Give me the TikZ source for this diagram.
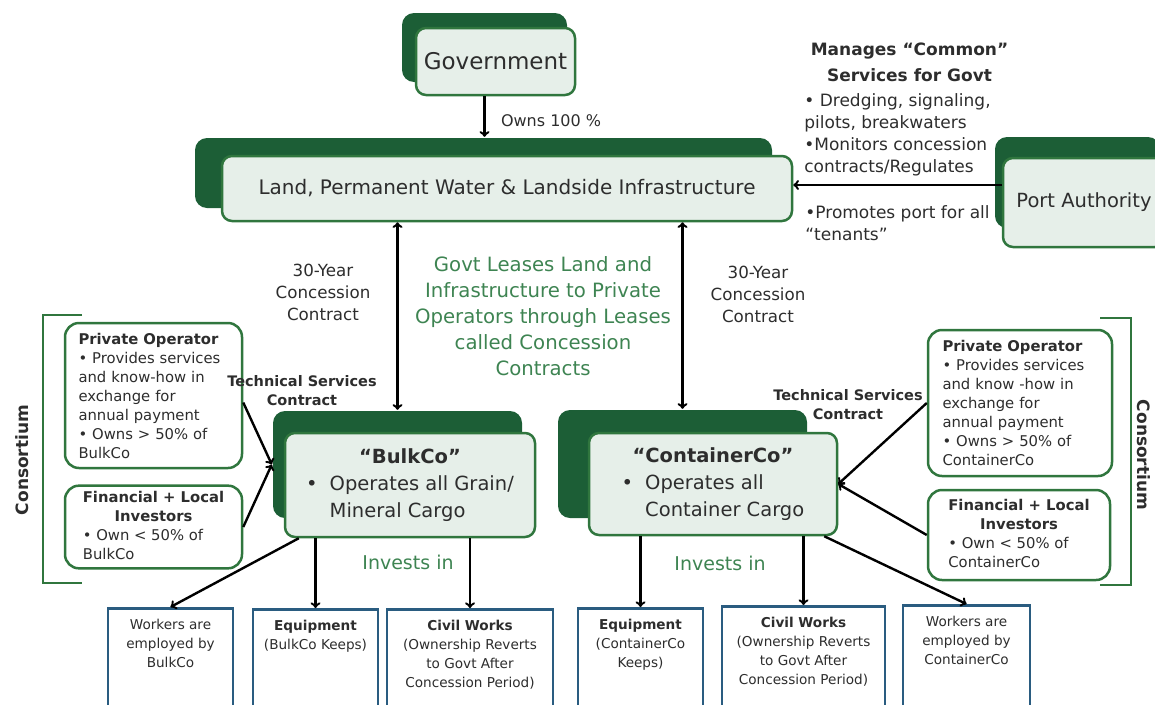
\documentclass[tikz,border=0pt]{standalone}
\usepackage{fontspec}
\setmainfont{DejaVu Sans}
\usetikzlibrary{positioning}
\definecolor{dkgreen}{RGB}{28,94,54}
\definecolor{edgegreen}{RGB}{48,118,62}
\definecolor{palegreen}{RGB}{230,239,233}
\definecolor{txtgreen}{RGB}{62,132,82}
\definecolor{edgeblue}{RGB}{42,92,128}
\definecolor{txtgrey}{RGB}{45,45,45}

\begin{document}
\begin{tikzpicture}[x=1pt, y=-1pt, line width=2.4pt,
  darkbox/.style={fill=dkgreen, rounded corners=12pt},
  mainbox/.style={draw=edgegreen, line width=2.5pt, fill=palegreen, rounded corners=10pt, text=txtgrey, align=center},
  sidebox/.style={draw=edgegreen, line width=2.5pt, fill=white, rounded corners=14pt, text=txtgrey, font=\fontsize{14.8}{19}\selectfont},
  basebox/.style={draw=edgeblue, line width=2.6pt, fill=white, anchor=north, inner xsep=0pt, inner ysep=11pt, text depth=80pt, text=txtgrey, align=center, font=\fontsize{13.6}{19}\selectfont},
  note/.style={text=txtgrey, align=center, font=\fontsize{17}{22}\selectfont}]
\useasboundingbox (0,0) rectangle (1155,704);
\clip (0,0) rectangle (1155,704);

% top: government and the land it owns
\node[darkbox, minimum width=165pt, minimum height=69pt] (govS) at (484.5,47.5) {};
\node[mainbox, minimum width=159pt, minimum height=67pt, font=\fontsize{23}{28}\selectfont] (gov) at (495.5,61.5) {Government};
\node[darkbox, minimum width=577pt, minimum height=70pt] (landS) at (483.5,173) {};
\node[mainbox, minimum width=570pt, minimum height=65pt, font=\fontsize{20}{26}\selectfont] (land) at (507,188.5) {Land, Permanent Water \& Landside Infrastructure};
\node[darkbox, minimum width=165pt, minimum height=91pt] (portS) at (1077.5,182.5) {};
\node[mainbox, minimum width=162pt, minimum height=89pt, font=\fontsize{19.5}{25}\selectfont] (port) at (1084,202.5) {Port Authority};

\draw[->] (gov.south -| govS.south) -- node[note, right=12pt, yshift=-4pt, font=\fontsize{16}{20}\selectfont] {Owns 100 \%} (landS.north -| govS.south);
\coordinate (pa) at ([yshift=17.5pt]port.west);
\draw[->] (pa) -- node[note, above=4pt, align=left] (duty) {• Dredging, signaling,\\pilots, breakwaters\\•Monitors concession\\contracts/Regulates}
  node[note, below=16pt, align=left] (promo) {•Promotes port for all\\“tenants”} (pa -| land.east);
\node[note, font=\bfseries\fontsize{17}{26}\selectfont, above=3pt of duty, xshift=12pt] (mgr) {Manages “Common”\\Services for Govt};

% the two operating companies
\node[darkbox, minimum width=249pt, minimum height=107pt] (bulkS) at (397.5,464.5) {};
\node[mainbox, minimum width=250pt, minimum height=104pt, font=\fontsize{19.5}{27}\selectfont] (bulk) at (410,485) {%
  \begin{tabular}{@{}c@{\hspace{12pt}}l@{}}
  \multicolumn{2}{c}{\bfseries “BulkCo”}\\
  • & Operates all Grain/\\
    & Mineral Cargo
  \end{tabular}};
\node[darkbox, minimum width=249pt, minimum height=108pt] (contS) at (682.5,464) {};
\node[mainbox, minimum width=248pt, minimum height=102pt, font=\fontsize{19.5}{27}\selectfont] (cont) at (713,484) {%
  \begin{tabular}{@{}c@{\hspace{12pt}}l@{}}
  \multicolumn{2}{c}{\bfseries “ContainerCo”}\\
  • & Operates all\\
    & Container Cargo
  \end{tabular}};

\draw[<->] (land.south -| bulkS.north) -- (bulkS.north);
\draw[<->] (land.south -| contS.north) -- (contS.north);
\node[note, font=\fontsize{16.7}{22}\selectfont] (cc1) at (323,292) {30-Year\\Concession\\Contract};
\node[note, font=\fontsize{16.7}{22}\selectfont] (cc2) at (758,294) {30-Year\\Concession\\Contract};
\node[note, text=txtgreen, font=\fontsize{19.7}{26}\selectfont] (lease) at (543,316) {Govt Leases Land and\\Infrastructure to Private\\Operators through Leases\\called Concession\\Contracts};

% consortium on the left
\node[sidebox, minimum width=177pt, minimum height=145pt, text width=150pt, align=left] (lpo) at (153.5,395.5) {\textbf{Private Operator}\\• Provides services\\and know-how in\\exchange for\\annual payment\\• Owns > 50\% of\\BulkCo};
\node[sidebox, minimum width=177pt, minimum height=80pt] (lfi) at (153.5,527) {%
  \begin{tabular}{@{}l@{}}
  \multicolumn{1}{@{}c@{}}{\bfseries Financial + Local}\\
  \multicolumn{1}{@{}c@{}}{\bfseries Investors}\\
  • Own < 50\% of\\
  BulkCo
  \end{tabular}};
\draw[edgegreen, line width=2pt] (82,315) -- (43,315) -- (43,583) -- (82,583);
\node[note, rotate=90, font=\bfseries\fontsize{17}{20}\selectfont] (lcons) at (22,460) {Consortium};
\node[note, font=\bfseries\fontsize{14.5}{19}\selectfont] (lts) at (302,391) {Technical Services\\Contract};
\draw[->] ([yshift=-7pt]lpo.east) -- (bulkS.west);
\draw[->] (lfi.east) -- (bulkS.west);

% consortium on the right
\node[sidebox, minimum width=184pt, minimum height=146pt, text width=155pt, align=left] (rpo) at (1020,403) {\textbf{Private Operator}\\• Provides services\\and know -how in\\exchange for\\annual payment\\• Owns > 50\% of\\ContainerCo};
\node[sidebox, minimum width=182pt, minimum height=90pt] (rfi) at (1019,535) {%
  \begin{tabular}{@{}l@{}}
  \multicolumn{1}{@{}c@{}}{\bfseries Financial + Local}\\
  \multicolumn{1}{@{}c@{}}{\bfseries Investors}\\
  • Own < 50\% of\\
  ContainerCo
  \end{tabular}};
\draw[edgegreen, line width=2pt] (1100,318) -- (1131,318) -- (1131,585) -- (1100,585);
\node[note, rotate=-90, font=\bfseries\fontsize{17}{20}\selectfont] (rcons) at (1144,455) {Consortium};
\node[note, font=\bfseries\fontsize{14.5}{19}\selectfont] (rts) at (848,405) {Technical Services\\Contract};
\draw[->] (rpo.west) -- (cont.east);
\draw[->] (rfi.west) -- (cont.east);

% what the companies invest in
\node[note, text=txtgreen, font=\fontsize{19}{24}\selectfont] (inv1) at (408,562) {Invests in};
\node[note, text=txtgreen, font=\fontsize{19}{24}\selectfont] (inv2) at (720,563) {Invests in};
\node[basebox, minimum width=125pt] (wrk1) at (170.5,607) {Workers are\\employed by\\BulkCo};
\node[basebox, minimum width=125pt] (eqp1) at (315.5,608) {\textbf{Equipment}\\(BulkCo Keeps)};
\node[basebox, minimum width=166pt] (civ1) at (470,608) {\textbf{Civil Works}\\(Ownership Reverts\\to Govt After\\Concession Period)};
\node[basebox, minimum width=125pt] (eqp2) at (640.5,607) {\textbf{Equipment}\\(ContainerCo\\Keeps)};
\node[basebox, minimum width=163pt] (civ2) at (803.5,605) {\textbf{Civil Works}\\(Ownership Reverts\\to Govt After\\Concession Period)};
\node[basebox, minimum width=127pt] (wrk2) at (966.5,604) {Workers are\\employed by\\ContainerCo};

\draw[->] ([xshift=15pt]bulk.south west) -- (wrk1.north);
\draw[->] (bulk.south -| eqp1.north) -- (eqp1.north);
\draw[->] (bulk.south -| civ1.north) -- (civ1.north);
\draw[->] (cont.south -| eqp2.north) -- (eqp2.north);
\draw[->] (cont.south -| civ2.north) -- (civ2.north);
\draw[->] ([xshift=-14pt]cont.south east) -- (wrk2.north);
\end{tikzpicture}
\end{document}
